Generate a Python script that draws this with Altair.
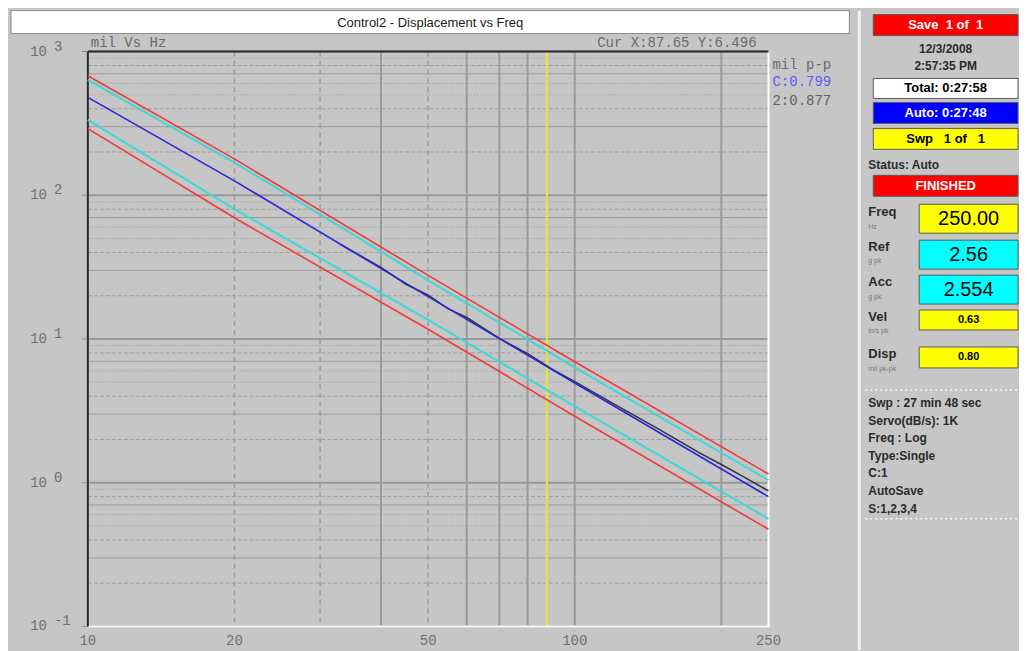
import altair as alt
import pandas as pd

# ---------------- values ----------------
freq = [10, 20, 50, 100, 250]
abort_hi = [679, 179, 27.7, 6.95, 1.15]
alarm_hi = [634, 169, 25.6, 6.35, 1.04]
control = [480, 126, 19.7, 4.94, 0.80]
alarm_lo = [335, 80, 13.6, 3.40, 0.56]
abort_lo = [291, 69.7, 11.7, 2.90, 0.474]

resp_freq = [33, 40, 45, 50, 55, 60, 70, 80, 90, 100, 120, 150, 180, 200, 220, 250]
resp_disp = [45.5, 31.5, 24.0, 20.2, 16.2, 14.1, 10.1, 7.9, 6.15, 5.05, 3.55, 2.32, 1.62, 1.34, 1.12, 0.877]

cursor_freq = [87.65]

x_tick_labels = [10, 20, 50, 100, 250]
y_decades = [0.1, 1, 10, 100, 1000]
y_exponents = ["-1", "0", "1", "2", "3"]
x_grid_solid = [40, 60, 70, 80, 100, 200]
x_grid_dashed = [20, 30, 50]
minor_solid_mult = [3, 7]
minor_dashed_mult = [2, 4, 8]
minor_dotted_mult = [5, 6, 9]

title_text = "Control2 - Displacement vs Freq"
units_text = "mil Vs Hz"
cursor_text = "Cur X:87.65 Y:6.496"
legend_texts = ["mil p-p", "C:0.799", "2:0.877"]
legend_colors = ["#6a6a6a", "#5a5aff", "#606060"]

NB = "\u00a0"
panel_box_texts = [f"Save{NB}{NB}1{NB}of{NB}{NB}1", "Total: 0:27:58", "Auto: 0:27:48",
                   f"Swp{NB}{NB}{NB}1{NB}of{NB}{NB}{NB}1", "FINISHED"]
panel_box_fills = ["#ff0000", "#ffffff", "#0000ff", "#ffff00", "#ff0000"]
panel_box_textcolors = ["#ffffff", "#000000", "#ffffff", "#000000", "#ffffff"]
panel_date_lines = ["12/3/2008", "2:57:35 PM"]
panel_status = ["Status: Auto"]
readout_names = ["Freq", "Ref", "Acc", "Vel", "Disp"]
readout_units = ["Hz", "g pk", "g pk", "in/s pk", "mil pk-pk"]
readout_values = ["250.00", "2.56", "2.554", "0.63", "0.80"]
readout_fills = ["#ffff00", "#00ffff", "#00ffff", "#ffff00", "#ffff00"]
info_lines = ["Swp : 27 min 48 sec", "Servo(dB/s): 1K", "Freq : Log", "Type:Single",
              "C:1", "AutoSave", "S:1,2,3,4"]

# ---------------- layout (pixels relative to the plot origin) ----------------
W, H = 682, 576
PANEL_X0, PANEL_X1 = 787, 932
PANEL_TEXT_X = 782
READ_BOX_X0 = 833
box_tops = [-37, 27, 51, 77, 124]
box_bottoms = [-16, 47, 72, 98, 145]
date_ys = [-3, 14]
status_y = [114]
read_tops = [153, 189, 224, 259, 296]
read_bottoms = [182, 218, 253, 279, 317]
read_label_ys = [161, 196, 231, 266, 303]
read_unit_ys = [176, 210, 246, 280, 318]
read_big = [True, True, True, False, False]
info_ys = [352, 370, 387, 405, 422, 440, 458]
sep_ys = [339, 468]

xs = alt.Scale(type="log", domain=[10, 250], nice=False)
ys = alt.Scale(type="log", domain=[0.1, 1000], nice=False)

MONO = "Liberation Mono"
SANS = "Liberation Sans"
GRID = "#9c9c9c"


def X(f):
    return alt.X(f"{f}:Q", scale=xs, axis=None)


def Y(f):
    return alt.Y(f"{f}:Q", scale=ys, axis=None)


def PX(f):
    return alt.X(f"{f}:Q", scale=None)


def PY(f):
    return alt.Y(f"{f}:Q", scale=None)


layers = []

# ---- grid ----
def minor_vals(mults):
    return [m * d for d in [0.1, 1, 10, 100] for m in mults]

layers.append(alt.Chart(pd.DataFrame({"v": minor_vals(minor_dotted_mult)})).mark_rule(
    color=GRID, strokeWidth=1, strokeDash=[1, 2]).encode(y=Y("v")))
layers.append(alt.Chart(pd.DataFrame({"v": minor_vals(minor_dashed_mult)})).mark_rule(
    color=GRID, strokeWidth=1, strokeDash=[4, 2]).encode(y=Y("v")))
layers.append(alt.Chart(pd.DataFrame({"v": minor_vals(minor_solid_mult)})).mark_rule(
    color=GRID, strokeWidth=1).encode(y=Y("v")))
layers.append(alt.Chart(pd.DataFrame({"v": y_decades})).mark_rule(
    color="#989898", strokeWidth=2).encode(y=Y("v")))
layers.append(alt.Chart(pd.DataFrame({"f": x_grid_dashed})).mark_rule(
    color=GRID, strokeWidth=1.5, strokeDash=[5, 4]).encode(x=X("f")))
layers.append(alt.Chart(pd.DataFrame({"f": x_grid_solid})).mark_rule(
    color="#9a9a9a", strokeWidth=2).encode(x=X("f")))

# ---- cursor ----
layers.append(alt.Chart(pd.DataFrame({"f": cursor_freq})).mark_rule(
    color="#e6e62a", strokeWidth=2).encode(x=X("f")))

# ---- frame ----
layers.append(alt.Chart(pd.DataFrame({"a": [0]})).mark_rule(color="#ffffff", strokeWidth=2).encode(
    x=alt.value(0), x2=alt.value(W + 1), y=alt.value(H)))
layers.append(alt.Chart(pd.DataFrame({"a": [0]})).mark_rule(color="#ffffff", strokeWidth=2).encode(
    x=alt.value(W), y=alt.value(0), y2=alt.value(H)))
layers.append(alt.Chart(pd.DataFrame({"a": [0]})).mark_rule(color="#2a2a2a", strokeWidth=2).encode(
    x=alt.value(0), x2=alt.value(W), y=alt.value(0)))
layers.append(alt.Chart(pd.DataFrame({"a": [0]})).mark_rule(color="#2a2a2a", strokeWidth=2).encode(
    x=alt.value(0), y=alt.value(0), y2=alt.value(H)))

# ---- data lines ----
def line(fv, vv, color, width):
    return alt.Chart(pd.DataFrame({"f": fv, "v": vv})).mark_line(
        color=color, strokeWidth=width).encode(x=X("f"), y=Y("v"))

layers.append(line(freq, abort_hi, "#f03a3a", 1.6))
layers.append(line(freq, abort_lo, "#f03a3a", 1.6))
layers.append(line(freq, alarm_hi, "#3ed6d6", 2))
layers.append(line(freq, alarm_lo, "#3ed6d6", 2))
layers.append(line(resp_freq, resp_disp, "#34343e", 1.6))
layers.append(line(freq, control, "#2828d8", 1.6))

# ---- axis labels (drawn through the scales) ----
layers.append(alt.Chart(pd.DataFrame({"f": x_tick_labels, "t": [str(v) for v in x_tick_labels]})).mark_text(
    font=MONO, fontSize=14, color="#6e6e6e", baseline="middle", align="center").encode(
    x=X("f"), y=alt.value(H + 15), text="t:N"))
dec_df = pd.DataFrame({"v": y_decades, "e": y_exponents})
layers.append(alt.Chart(dec_df).mark_text(
    font=MONO, fontSize=14, color="#6e6e6e", baseline="middle", align="right").encode(
    y=Y("v"), x=alt.value(-41), text=alt.value("10")))
layers.append(alt.Chart(dec_df).mark_text(
    font=MONO, fontSize=14, color="#6e6e6e", baseline="middle", align="left", dy=-5).encode(
    y=Y("v"), x=alt.value(-34), text="e:N"))
layers.append(alt.Chart(dec_df).mark_rule(color="#8a8a8a", strokeWidth=1).encode(
    y=Y("v"), x=alt.value(-6), x2=alt.value(-1)))

# ---- header ----
layers.append(alt.Chart(pd.DataFrame({"x0": [-77], "x1": [763], "y0": [-41], "y1": [-18]})).mark_rect(
    fill="#ffffff", stroke="#8a8a8a", strokeWidth=1).encode(
    x=PX("x0"), x2="x1:Q", y=PY("y0"), y2="y1:Q"))
layers.append(alt.Chart(pd.DataFrame({"x": [343], "y": [-29], "t": [title_text]})).mark_text(
    font=SANS, fontSize=13, color="#1a1a1a", baseline="middle", align="center").encode(
    x=PX("x"), y=PY("y"), text="t:N"))
layers.append(alt.Chart(pd.DataFrame({"x": [3], "y": [-9], "t": [units_text]})).mark_text(
    font=MONO, fontSize=14, color="#6a6a6a", baseline="middle", align="left").encode(
    x=PX("x"), y=PY("y"), text="t:N"))
layers.append(alt.Chart(pd.DataFrame({"x": [670], "y": [-9], "t": [cursor_text]})).mark_text(
    font=MONO, fontSize=14, color="#6a6a6a", baseline="middle", align="right").encode(
    x=PX("x"), y=PY("y"), text="t:N"))
layers.append(alt.Chart(pd.DataFrame({"x": [686] * 3, "y": [13, 31, 50], "t": legend_texts,
                                      "c": legend_colors})).mark_text(
    font=MONO, fontSize=14, baseline="middle", align="left").encode(
    x=PX("x"), y=PY("y"), text="t:N", color=alt.Color("c:N", scale=None)))

# ---- side panel ----
layers.append(alt.Chart(pd.DataFrame({"a": [0]})).mark_rule(color="#f4f4f4", strokeWidth=3).encode(
    x=alt.value(773), y=alt.value(-41), y2=alt.value(H + 24)))

box_df = pd.DataFrame({"x0": [PANEL_X0] * 5, "x1": [PANEL_X1] * 5, "y0": box_tops, "y1": box_bottoms,
                       "fill": panel_box_fills, "t": panel_box_texts, "tc": panel_box_textcolors,
                       "ym": [(a + b) / 2 for a, b in zip(box_tops, box_bottoms)],
                       "xm": [(PANEL_X0 + PANEL_X1) / 2] * 5})
layers.append(alt.Chart(box_df).mark_rect(stroke="#5a5a5a", strokeWidth=1).encode(
    x=PX("x0"), x2="x1:Q", y=PY("y0"), y2="y1:Q", fill=alt.Fill("fill:N", scale=None)))
layers.append(alt.Chart(box_df).mark_text(
    font=SANS, fontSize=13, fontWeight="bold", baseline="middle", align="center").encode(
    x=PX("xm"), y=PY("ym"), text="t:N", color=alt.Color("tc:N", scale=None)))

layers.append(alt.Chart(pd.DataFrame({"x": [(PANEL_X0 + PANEL_X1) / 2] * 2, "y": date_ys,
                                      "t": panel_date_lines})).mark_text(
    font=SANS, fontSize=12, fontWeight="bold", color="#2a2a2a", baseline="middle", align="center").encode(
    x=PX("x"), y=PY("y"), text="t:N"))
layers.append(alt.Chart(pd.DataFrame({"x": [PANEL_TEXT_X], "y": status_y, "t": panel_status})).mark_text(
    font=SANS, fontSize=12, fontWeight="bold", color="#2a2a2a", baseline="middle", align="left").encode(
    x=PX("x"), y=PY("y"), text="t:N"))

read_df = pd.DataFrame({"x0": [READ_BOX_X0] * 5, "x1": [PANEL_X1] * 5, "y0": read_tops, "y1": read_bottoms,
                        "fill": readout_fills, "t": readout_values,
                        "ym": [(a + b) / 2 for a, b in zip(read_tops, read_bottoms)],
                        "xm": [(READ_BOX_X0 + PANEL_X1) / 2] * 5,
                        "name": readout_names, "unit": readout_units,
                        "ly": read_label_ys, "uy": read_unit_ys, "lx": [PANEL_TEXT_X] * 5,
                        "big": read_big})
layers.append(alt.Chart(read_df).mark_rect(stroke="#5a5a5a", strokeWidth=1).encode(
    x=PX("x0"), x2="x1:Q", y=PY("y0"), y2="y1:Q", fill=alt.Fill("fill:N", scale=None)))
layers.append(alt.Chart(read_df).transform_filter("datum.big").mark_text(
    font=SANS, fontSize=20, color="#000000", baseline="middle", align="center").encode(
    x=PX("xm"), y=PY("ym"), text="t:N"))
layers.append(alt.Chart(read_df).transform_filter("!datum.big").mark_text(
    font=SANS, fontSize=11, fontWeight="bold", color="#000000", baseline="middle", align="center").encode(
    x=PX("xm"), y=PY("ym"), text="t:N"))
layers.append(alt.Chart(read_df).mark_text(
    font=SANS, fontSize=13, fontWeight="bold", color="#2a2a2a", baseline="middle", align="left").encode(
    x=PX("lx"), y=PY("ly"), text="name:N"))
layers.append(alt.Chart(read_df).mark_text(
    font=SANS, fontSize=7, color="#777777", baseline="middle", align="left").encode(
    x=PX("lx"), y=PY("uy"), text="unit:N"))

layers.append(alt.Chart(pd.DataFrame({"x0": [PANEL_X0 - 8] * 2, "x1": [PANEL_X1] * 2, "y": sep_ys})).mark_rule(
    color="#f6f6f6", strokeWidth=1.5, strokeDash=[2, 3]).encode(x=PX("x0"), x2="x1:Q", y=PY("y")))
layers.append(alt.Chart(pd.DataFrame({"x": [PANEL_TEXT_X] * len(info_lines), "y": info_ys,
                                      "t": info_lines})).mark_text(
    font=SANS, fontSize=12, fontWeight="bold", color="#2a2a2a", baseline="middle", align="left").encode(
    x=PX("x"), y=PY("y"), text="t:N"))

chart = alt.layer(*layers).properties(
    width=W, height=H,
    padding={"left": 2, "top": 0, "right": 0, "bottom": 0},
    background="#c6c6c6",
).configure_view(stroke=None)

chart.save("out.html", embed_options={"renderer": "svg", "actions": False})
